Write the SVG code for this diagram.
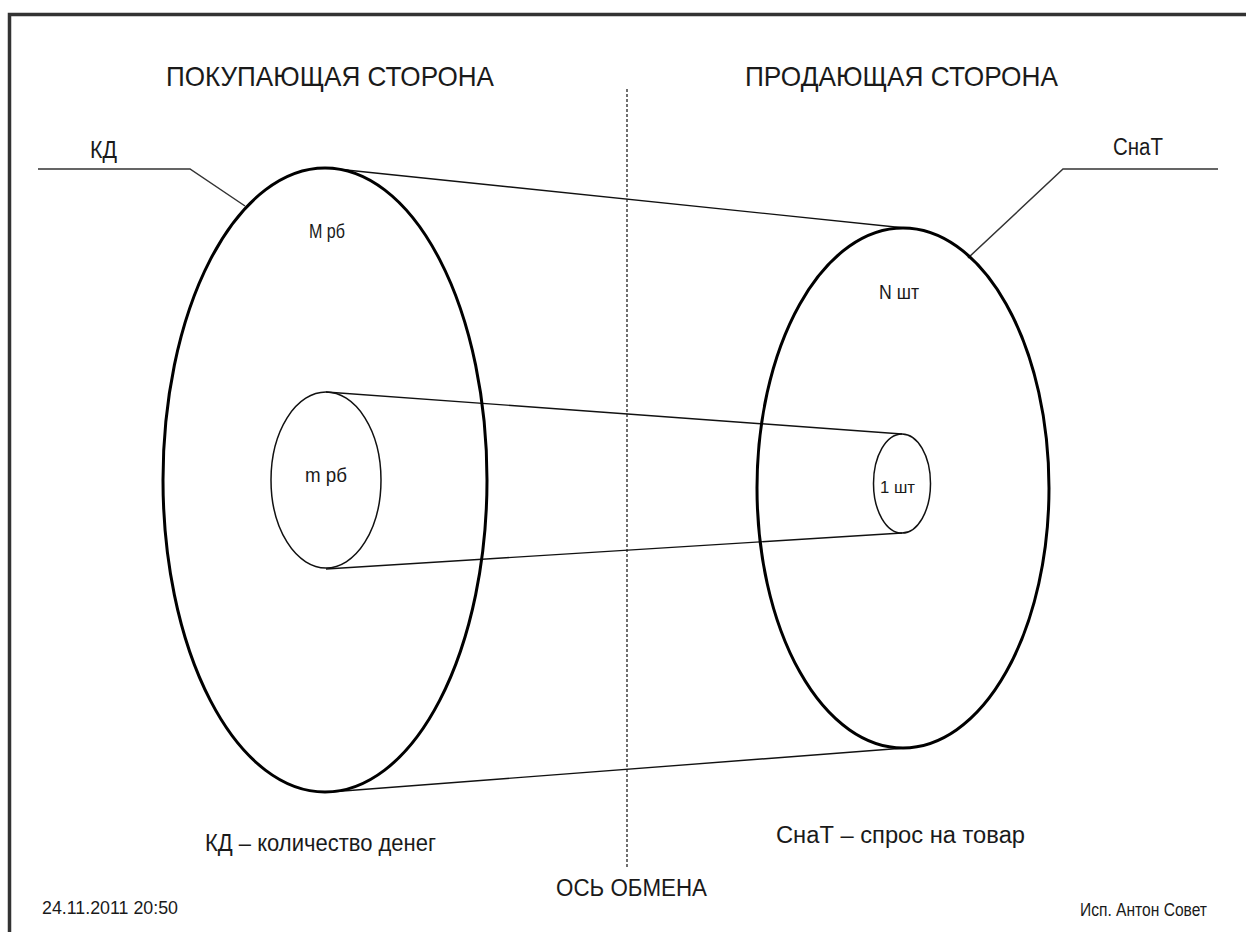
<svg xmlns="http://www.w3.org/2000/svg" width="1246" height="932" viewBox="0 0 1246 932">
<style>
text{font-family:"Liberation Sans",Arial,sans-serif;fill:#1a1a1a}
.big{fill:none;stroke:#000;stroke-width:3}
.small{fill:none;stroke:#111;stroke-width:1.5}
.ln{fill:none;stroke:#111;stroke-width:1.4}
.lead{fill:none;stroke:#333;stroke-width:1.5}
</style>
<rect width="1246" height="932" fill="#fff"/>
<path d="M9.5,932 V14.5 H1246" fill="none" stroke="#333" stroke-width="3.5"/>
<g id="headers">
<text x="166" y="86" font-size="28" textLength="328" lengthAdjust="spacingAndGlyphs">ПОКУПАЮЩАЯ СТОРОНА</text>
<text x="745" y="86" font-size="28" textLength="313" lengthAdjust="spacingAndGlyphs">ПРОДАЮЩАЯ СТОРОНА</text>
</g>
<g id="connectors">
<line x1="627" y1="89" x2="627" y2="867" stroke="#111" stroke-width="1.2" stroke-dasharray="3,2"/>
<line class="ln" x1="327" y1="168" x2="905" y2="228"/>
<line class="ln" x1="330" y1="792" x2="905" y2="748"/>
<line class="ln" x1="326" y1="392" x2="902" y2="434"/>
<line class="ln" x1="326" y1="569" x2="902" y2="533"/>
<polyline class="lead" points="38,169 190,169 245,206"/>
<polyline class="lead" points="968,258 1063,169 1218,169"/>
</g>
<g id="buyer-big">
<ellipse class="big" cx="325" cy="480" rx="162" ry="312"/>
<text x="309" y="238" font-size="21" textLength="36" lengthAdjust="spacingAndGlyphs">М рб</text>
</g>
<g id="seller-big">
<ellipse class="big" cx="903" cy="488" rx="146" ry="260"/>
<text x="879" y="299" font-size="21" textLength="40" lengthAdjust="spacingAndGlyphs">N шт</text>
</g>
<g id="buyer-small">
<ellipse class="small" cx="326" cy="480" rx="55" ry="88"/>
<text x="305" y="482" font-size="21" textLength="42" lengthAdjust="spacingAndGlyphs">m рб</text>
</g>
<g id="seller-small">
<ellipse class="small" cx="902" cy="483.5" rx="28.5" ry="49.5"/>
<text x="880" y="493" font-size="17" textLength="35" lengthAdjust="spacingAndGlyphs">1 шт</text>
</g>
<g id="label-kd">
<text x="90" y="158" font-size="23" textLength="27" lengthAdjust="spacingAndGlyphs">КД</text>
</g>
<g id="label-snat">
<text x="1113" y="155" font-size="23" textLength="50" lengthAdjust="spacingAndGlyphs">СнаТ</text>
</g>
<g id="notes">
<text x="205" y="851" font-size="23" textLength="231" lengthAdjust="spacingAndGlyphs">КД – количество денег</text>
<text x="776" y="843" font-size="23" textLength="249" lengthAdjust="spacingAndGlyphs">СнаТ – спрос на товар</text>
<text x="556" y="896" font-size="23" textLength="151" lengthAdjust="spacingAndGlyphs">ОСЬ ОБМЕНА</text>
<text x="42" y="914" font-size="18" textLength="136" lengthAdjust="spacingAndGlyphs">24.11.2011 20:50</text>
<text x="1080" y="916" font-size="18" textLength="127" lengthAdjust="spacingAndGlyphs">Исп. Антон Совет</text>
</g>
</svg>
